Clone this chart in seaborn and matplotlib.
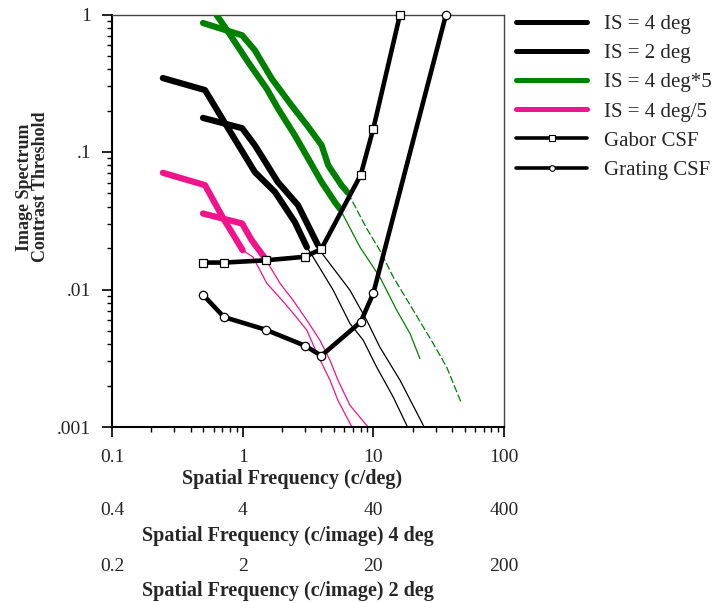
import numpy as np
import pandas as pd
import matplotlib
matplotlib.use('Agg')
import matplotlib.pyplot as plt
from matplotlib.lines import Line2D
from matplotlib.ticker import NullFormatter, NullLocator
import seaborn as sns

# ---- data (c/deg, contrast threshold) ----
is4_thick_x = [0.245, 0.515, 0.733, 1.24, 1.77, 2.51, 3.10]
is4_thick_y = [0.345, 0.282, 0.162, 0.0714, 0.0511, 0.0309, 0.0203]
is4_thin_x = [3.10, 3.45, 4.93, 6.62, 8.37, 10.6, 14.2, 18.0, 18.5]
is4_thin_y = [0.0203, 0.0173, 0.00989, 0.00566, 0.00428, 0.00273, 0.00165, 0.00103, 0.00095]

is2_thick_x = [0.497, 0.99, 1.24, 1.86, 2.65, 3.77]
is2_thick_y = [0.177, 0.149, 0.112, 0.0604, 0.0411, 0.0210]
is2_thin_x = [3.77, 4.14, 6.62, 8.89, 11.2, 16.0, 24.1, 24.8]
is2_thin_y = [0.0210, 0.0178, 0.00989, 0.00598, 0.00382, 0.00219, 0.00103, 0.00096]

g4_thick_x = [0.632, 0.776, 1.10, 1.53, 1.87, 2.51, 3.18, 4.02, 5.08, 5.55]
g4_thick_y = [0.99, 0.746, 0.451, 0.288, 0.206, 0.132, 0.0893, 0.0604, 0.0432, 0.0386]
g4_thin_x = [5.55, 7.89, 11.2, 15.1, 19.1, 22.7]
g4_thin_y = [0.0386, 0.0204, 0.01235, 0.00707, 0.00478, 0.00315]

g2_thick_x = [0.497, 0.99, 1.24, 1.67, 2.37, 3.18, 4.02, 4.52, 5.72, 6.39]
g2_thick_y = [0.867, 0.706, 0.549, 0.341, 0.218, 0.152, 0.112, 0.0799, 0.0571, 0.0505]
g2_thin_x = [6.39, 8.89, 11.2, 14.2, 20.2, 28.7, 36.4, 46.8]
g2_thin_y = [0.0505, 0.0278, 0.0193, 0.01235, 0.00707, 0.00405, 0.00273, 0.00152]

p4_thick_x = [0.245, 0.515, 0.711, 1.00]
p4_thick_y = [0.0706, 0.0574, 0.0329, 0.0193]
p4_thin_x = [1.00, 1.20, 1.53, 2.00, 2.43, 3.10, 3.70, 4.66, 5.36, 6.86]
p4_thin_y = [0.0193, 0.0172, 0.0111, 0.00836, 0.00673, 0.00506, 0.00344, 0.00219, 0.00156, 0.001]

p2_thick_x = [0.497, 0.99, 1.17, 1.48]
p2_thick_y = [0.0357, 0.0302, 0.0229, 0.0169]
p2_thin_x = [1.48, 1.93, 2.43, 3.10, 3.90, 4.66, 5.36, 6.62, 9.10]
p2_thin_y = [0.0169, 0.0111, 0.00836, 0.00598, 0.00428, 0.00306, 0.00219, 0.00144, 0.001]

gabor_x = [0.5, 0.72, 1.5, 3.0, 4.0, 8.0, 10.0, 16.0]
gabor_y = [0.0157, 0.0157, 0.0163, 0.0173, 0.0197, 0.068, 0.148, 1.0]
grating_x = [0.5, 0.72, 1.5, 3.0, 4.0, 8.0, 10.0, 36.0]
grating_y = [0.0091, 0.0063, 0.0051, 0.0039, 0.0033, 0.0058, 0.0094, 1.0]

x_ticks = [0.1, 1, 10, 100]
x_ticklabels = ['0.1', '1', '10', '100']
x4_ticks = [0.4, 4, 40, 400]
x2_ticks = [0.2, 2, 20, 200]
y_ticks = [0.001, 0.01, 0.1, 1]
y_ticklabels = ['.001', '.01', '.1', '1']
legend_labels = ['IS = 4 deg', 'IS = 2 deg', 'IS = 4 deg*5', 'IS = 4 deg/5', 'Gabor CSF', 'Grating CSF']

IMG4 = 4.0  # c/image per c/deg, 4 deg image
IMG2 = 2.0  # c/image per c/deg, 2 deg image

GREEN = '#008000'
PINK = '#f0148c'

sns.set_style('ticks')
plt.rcParams['font.family'] = ['Liberation Serif', 'DejaVu Serif']

W, H = 715, 603
fig = plt.figure(figsize=(W / 100, H / 100), dpi=100)
ax = fig.add_axes([112 / W, 1 - 427 / H, 392 / W, 412.5 / H])


def curve(x, y, color, lw, ls='-', z=2):
    df = pd.DataFrame({'x': x, 'y': y})
    sns.lineplot(data=df, x='x', y='y', ax=ax, color=color, lw=lw, linestyle=ls,
                 sort=False, zorder=z, legend=False)


# thin continuations
for xs, ys, c, ls in [(is4_thin_x, is4_thin_y, 'black', '-'), (is2_thin_x, is2_thin_y, 'black', '-'),
                      (g4_thin_x, g4_thin_y, GREEN, '-'), (g2_thin_x, g2_thin_y, GREEN, (0, (6, 2))),
                      (p4_thin_x, p4_thin_y, PINK, '-'), (p2_thin_x, p2_thin_y, PINK, '-')]:
    curve(xs, ys, c, 0.9, ls)

# thick (visible) parts
for xs, ys, c in [(is4_thick_x, is4_thick_y, 'black'), (is2_thick_x, is2_thick_y, 'black'),
                  (g4_thick_x, g4_thick_y, GREEN), (g2_thick_x, g2_thick_y, GREEN),
                  (p4_thick_x, p4_thick_y, PINK), (p2_thick_x, p2_thick_y, PINK)]:
    curve(xs, ys, c, 4.5, z=3)

# CSFs
for xs, ys, m in [(gabor_x, gabor_y, 's'), (grating_x, grating_y, 'o')]:
    df = pd.DataFrame({'x': xs, 'y': ys})
    sns.lineplot(data=df, x='x', y='y', ax=ax, color='black', lw=3.3, sort=False,
                 marker=m, markersize=6, markerfacecolor='white', markeredgecolor='black',
                 markeredgewidth=0.9, zorder=5, clip_on=False, legend=False)

ax.set_xscale('log')
ax.set_yscale('log')
ax.set_xlim(0.1, 100)
ax.set_ylim(0.001, 1)
ax.set_xticks(x_ticks)
ax.set_xticklabels(x_ticklabels)
ax.set_yticks(y_ticks)
ax.set_yticklabels(y_ticklabels)
ax.xaxis.set_minor_formatter(NullFormatter())
ax.yaxis.set_minor_formatter(NullFormatter())
ax.tick_params(which='major', length=7, width=1.2, labelsize=14, color='black')
ax.tick_params(axis='x', which='major', pad=8.5)
ax.tick_params(axis='y', which='major', pad=8)
ax.tick_params(which='minor', length=3.5, width=1.0, color='black')

for s in ['left', 'bottom']:
    ax.spines[s].set_linewidth(1.5)
    ax.spines[s].set_color('black')
for s in ['top', 'right']:
    ax.spines[s].set_visible(True)
    ax.spines[s].set_linewidth(1.0)
    ax.spines[s].set_color('#444444')

ax.set_xlabel('Spatial Frequency (c/deg)', fontsize=14.5, fontweight='bold')
ax.xaxis.set_label_coords(0.459, -0.102, transform=ax.transAxes)
ax.set_ylabel('Image Spectrum\nContrast Threshold', fontsize=13, fontweight='bold', linespacing=0.95)
ax.yaxis.set_label_coords(-0.16, 0.582, transform=ax.transAxes)

for loc, f, ticks, lab, ly in [(-0.183, IMG4, x4_ticks, 'Spatial Frequency (c/image) 4 deg', -0.239),
                               (-0.318, IMG2, x2_ticks, 'Spatial Frequency (c/image) 2 deg', -0.374)]:
    sec = ax.secondary_xaxis(loc, functions=(lambda x, f=f: x * f, lambda x, f=f: x / f))
    sec.set_xticks(ticks)
    sec.set_xticklabels([f'{t:g}' for t in ticks])
    sec.xaxis.set_minor_locator(NullLocator())
    sec.tick_params(length=0, pad=0, labelsize=14)
    sec.spines['bottom'].set_visible(False)
    sec.set_xlabel(lab, fontsize=14.5, fontweight='bold')
    sec.xaxis.set_label_coords(0.449, ly, transform=ax.transAxes)

handles = [Line2D([], [], color='black', lw=3.6),
           Line2D([], [], color='black', lw=3.6),
           Line2D([], [], color=GREEN, lw=3.6),
           Line2D([], [], color=PINK, lw=3.6),
           Line2D([], [], color='black', lw=2.6, marker='s', markersize=4,
                  markerfacecolor='white', markeredgewidth=0.8),
           Line2D([], [], color='black', lw=2.6, marker='o', markersize=4,
                  markerfacecolor='white', markeredgewidth=0.8)]
fig.legend(handles, legend_labels, loc='upper left', bbox_to_anchor=(516 / W, 1 - 14.5 / H),
           frameon=False, fontsize=15, handlelength=3.41, handletextpad=0.82,
           labelspacing=0.46, borderaxespad=0, borderpad=0)

fig.savefig('out.png', dpi=100)
